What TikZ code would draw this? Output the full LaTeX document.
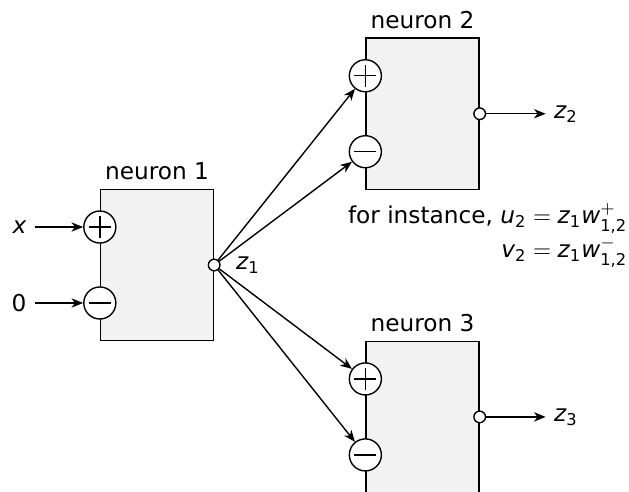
\documentclass[tikz,border=0pt]{standalone}
\usepackage{fontspec}
\setmainfont{DejaVu Sans}
\usetikzlibrary{positioning,arrows.meta}
\newcommand{\idx}[1]{\mbox{\scriptsize #1}}
\tikzset{
  neuronbox/.style={draw,fill=black!5,minimum width=1.71cm,minimum height=2.29cm,inner sep=0pt},
  signin/.style={circle,draw,fill=white,minimum size=.485cm,inner sep=0pt},
  plusin/.style={signin,path picture={
      \draw ([xshift=-.165cm]path picture bounding box.center)--([xshift=.165cm]path picture bounding box.center)
            ([yshift=-.165cm]path picture bounding box.center)--([yshift=.165cm]path picture bounding box.center);}},
  minusin/.style={signin,path picture={
      \draw ([xshift=-.165cm]path picture bounding box.center)--([xshift=.165cm]path picture bounding box.center);}},
  outdot/.style={circle,draw,fill=white,minimum size=5pt,inner sep=0pt}
}
\begin{document}
\begin{tikzpicture}[>={Stealth[length=5pt,width=4pt,inset=1.5pt]},semithick]
  \useasboundingbox (-2.377,-3.422) rectangle (7.146,4.012);
  % neurons
  \node[neuronbox,label=above:neuron 1] (n1) at (0,0) {};
  \node[neuronbox,label=above:neuron 2] (n2) at (4.02,2.29) {};
  \node[neuronbox,label=above:neuron 3] (n3) at (4.02,-2.30) {};
  \foreach \n in {1,2,3}{
    \node[plusin] (p\n) at ([yshift=.575cm]n\n.west) {};
    \node[minusin] (m\n) at ([yshift=-.575cm]n\n.west) {};
    \node[outdot] (o\n) at (n\n.east) {};
  }
  % inputs
  \node[left=.73cm of p1] (x) {$\mathit{x}$};
  \node[left=.73cm of m1] (zero) {0};
  \draw[->] (x)--(p1);
  \draw[->] (zero)--(m1);
  % outputs
  \node[right=3pt of o1] (z1) {$\mathit{z}_{\idx{1}}$};
  \node[right=.9cm of o2] (z2) {$\mathit{z}_{\idx{2}}$};
  \node[right=.9cm of o3] (z3) {$\mathit{z}_{\idx{3}}$};
  \draw[->] (o2)--(z2);
  \draw[->] (o3)--(z3);
  \foreach \t in {p2,m2,p3,m3}
    \draw[->] (o1)--(\t);
  \node[anchor=east,inner sep=0pt,align=right] (note) at (7.13,.45)
    {for instance, $\mathit{u}_{\idx{2}}=\mathit{z}_{\idx{1}}\mathit{w}^{+}_{\idx{1,2}}$\\[1pt]
     $\mathit{v}_{\idx{2}}=\mathit{z}_{\idx{1}}\mathit{w}^{-}_{\idx{1,2}}$};
\end{tikzpicture}
\end{document}
